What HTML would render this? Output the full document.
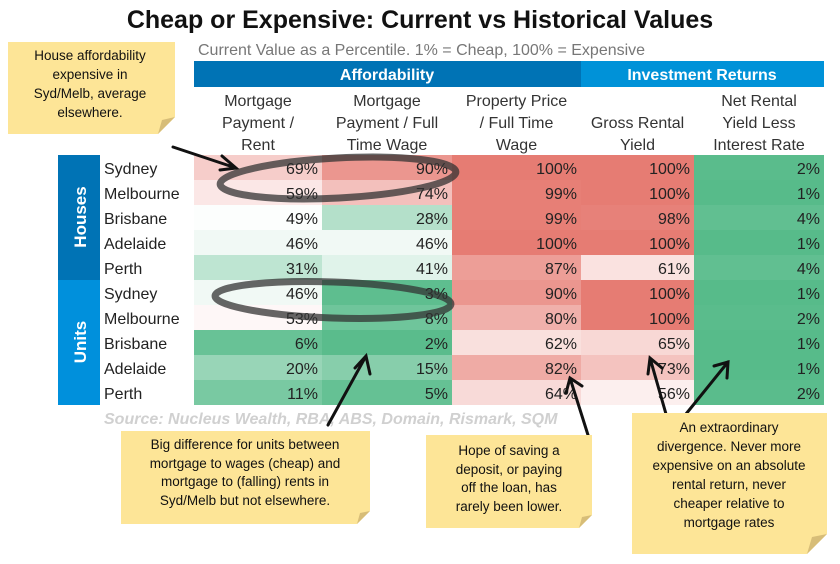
<!DOCTYPE html>
<html><head><meta charset="utf-8">
<style>
body{margin:0;background:#fff;width:840px;height:564px;overflow:hidden;font-family:"Liberation Sans",sans-serif}
svg{display:block}
</style></head>
<body>
<svg id="c" width="840" height="564" xmlns="http://www.w3.org/2000/svg">
<text x="420" y="28" text-anchor="middle" font-size="25" font-weight="bold" fill="#111">Cheap or Expensive: Current vs Historical Values</text>
<text x="198" y="55" font-size="16" fill="#777">Current Value as a Percentile. 1% = Cheap, 100% = Expensive</text>
<rect x="194" y="61" width="387" height="26" fill="#0073b5"/>
<text x="387" y="80" text-anchor="middle" font-size="16" font-weight="bold" fill="#fff">Affordability</text>
<rect x="581" y="61" width="243" height="26" fill="#0092d8"/>
<text x="702" y="80" text-anchor="middle" font-size="16" font-weight="bold" fill="#fff">Investment Returns</text>
<rect x="58" y="155" width="42" height="125" fill="#0073b5"/>
<text transform="translate(86,217) rotate(-90)" text-anchor="middle" font-size="17" font-weight="bold" fill="#fff">Houses</text>
<rect x="58" y="280" width="42" height="125" fill="#0090dc"/>
<text transform="translate(86,342) rotate(-90)" text-anchor="middle" font-size="17" font-weight="bold" fill="#fff">Units</text>
<g id="cells"></g>
<text x="104" y="424" font-size="16" font-style="italic" font-weight="bold" fill="#d0d0d0">Source: Nucleus Wealth, RBA, ABS, Domain, Rismark, SQM</text>
<g id="ann" fill="none" stroke-linecap="round">
<ellipse cx="338" cy="178" rx="118" ry="20" transform="rotate(-3 338 178)" stroke="#333" stroke-opacity="0.75" stroke-width="7"/>
<ellipse cx="333" cy="300" rx="118" ry="18" transform="rotate(2 333 300)" stroke="#333" stroke-opacity="0.75" stroke-width="7"/>
<g stroke="#111" stroke-width="3">
<path d="M173 147 L236 168 M222 156 L236 168 L220 170"/>
<path d="M328 425 L366 356 M355 368 L366 356 L370 374"/>
<path d="M588 435 L570 378 M566 393 L570 378 L582 386"/>
<path d="M668 421 L650 358 M648 374 L650 358 L662 368"/>
<path d="M686 414 L728 362 M714 366 L728 362 L727 378"/>
</g>
</g>
<g font-family="'Liberation Sans',sans-serif" font-size="13.5" fill="#111" text-anchor="middle">
<polygon points="8,42 175,42 175,117 158,134 8,134" fill="#fde597"/>
<polygon points="158,134 175,117 162,120" fill="#d7bd78"/>
<text x="90" y="60">House affordability</text><text x="90" y="79">expensive in</text><text x="90" y="98">Syd/Melb, average</text><text x="90" y="117">elsewhere.</text>
<polygon points="121,431 370,431 370,511 357,524 121,524" fill="#fde597"/>
<polygon points="357,524 370,511 360,513" fill="#d7bd78"/>
<text x="245" y="449">Big difference for units between</text><text x="245" y="468">mortgage to wages (cheap) and</text><text x="245" y="486">mortgage to (falling) rents in</text><text x="245" y="505">Syd/Melb but not elsewhere.</text>
<polygon points="426,435 592,435 592,515 579,528 426,528" fill="#fde597"/>
<polygon points="579,528 592,515 582,517" fill="#d7bd78"/>
<text x="509" y="455">Hope of saving a</text><text x="509" y="474">deposit, or paying</text><text x="509" y="492">off the loan, has</text><text x="509" y="511">rarely been lower.</text>
<polygon points="632,413 827,413 827,534 807,554 632,554" fill="#fde597"/>
<polygon points="807,554 827,534 812,537" fill="#d7bd78"/>
<text x="729" y="432">An extraordinary</text><text x="729" y="451">divergence. Never more</text><text x="729" y="470">expensive on an absolute</text><text x="729" y="489">rental return, never</text><text x="729" y="508">cheaper relative to</text><text x="729" y="527">mortgage rates</text>
</g>
</svg>
<script>
const columns = ["Mortgage Payment / Rent","Mortgage Payment / Full Time Wage","Property Price / Full Time Wage","Gross Rental Yield","Net Rental Yield Less Interest Rate"];
const cities = ["Sydney","Melbourne","Brisbane","Adelaide","Perth","Sydney","Melbourne","Brisbane","Adelaide","Perth"];
const housesValues = [[69,90,100,100,2],[59,74,99,100,1],[49,28,99,98,4],[46,46,100,100,1],[31,41,87,61,4]];
const unitsValues = [[46,3,90,100,1],[53,8,80,100,2],[6,2,62,65,1],[20,15,82,73,1],[11,5,64,56,2]];
const headerLines = [["Mortgage","Payment /","Rent"],["Mortgage","Payment / Full","Time Wage"],["Property Price","/ Full Time","Wage"],["","Gross Rental","Yield"],["Net Rental","Yield Less","Interest Rate"]];

const colEdges=[194,322,452,581,694,824];
const rowTop=155,rowH=25;
const NS="http://www.w3.org/2000/svg";
const g=document.getElementById('cells');
function mix(a,b,t){return a.map((v,i)=>Math.round(v+(b[i]-v)*t));}
function color(v){const G=[87,187,138],W=[255,255,255],R=[230,124,115];
 const c=v<50?mix(G,W,(v-1)/49):mix(W,R,(v-50)/50);return `rgb(${c})`;}
function el(tag,attrs){const e=document.createElementNS(NS,tag);for(const k in attrs)e.setAttribute(k,attrs[k]);g.appendChild(e);return e;}
headerLines.forEach((lines,ci)=>{const cx=(colEdges[ci]+colEdges[ci+1])/2;
 lines.forEach((t,li)=>{if(!t)return;const e=el('text',{x:cx,y:106+li*22,'text-anchor':'middle','font-size':16,fill:'#333'});e.textContent=t;
 
 });});
const all=housesValues.concat(unitsValues);
all.forEach((row,ri)=>{const y=rowTop+ri*rowH;
 const lab=el('text',{x:104,y:y+19,'font-size':16,fill:'#222'});lab.textContent=cities[ri];
 
 
 row.forEach((v,ci)=>{const r=el('rect',{x:colEdges[ci],y:y,width:colEdges[ci+1]-colEdges[ci],height:rowH,fill:color(v)});
  
  
  const t=el('text',{x:colEdges[ci+1]-4,y:y+19,'text-anchor':'end','font-size':16,fill:'#222'});t.textContent=v+'%';
  
  });});
</script>
</body></html>
